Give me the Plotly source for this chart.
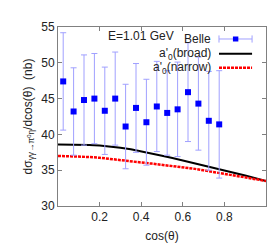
import plotly.graph_objects as go

# Belle data
cos_theta = [0.025, 0.075, 0.125, 0.175, 0.225, 0.275, 0.325, 0.375,
             0.425, 0.475, 0.525, 0.575, 0.625, 0.675, 0.725, 0.775]
belle = [47.4, 43.2, 44.8, 45.0, 43.3, 45.0, 41.1, 43.7,
         41.7, 43.9, 43.0, 43.5, 45.9, 44.3, 41.9, 41.4]
belle_err = [6.8, 6.1, 6.3, 6.3, 6.1, 6.5, 5.9, 6.2,
             6.0, 6.3, 5.9, 6.6, 6.9, 6.5, 6.9, 7.5]

# model curves
curve_x = [0.0, 0.05, 0.1, 0.15, 0.2, 0.25, 0.3, 0.35, 0.4, 0.45, 0.5,
           0.55, 0.6, 0.65, 0.7, 0.75, 0.8, 0.85, 0.9, 0.95, 1.0]
broad = [38.6, 38.6, 38.58, 38.53, 38.45, 38.33, 38.15, 37.93, 37.65, 37.35, 37.02,
         36.7, 36.37, 36.02, 35.68, 35.33, 34.98, 34.62, 34.25, 33.88, 33.5]
narrow = [37.0, 36.97, 36.92, 36.84, 36.74, 36.6, 36.42, 36.25, 36.08, 35.92, 35.75,
          35.6, 35.43, 35.22, 34.98, 34.72, 34.45, 34.2, 33.95, 33.72, 33.5]

x_ticks = [0.2, 0.4, 0.6, 0.8]
y_ticks = [30, 35, 40, 45, 50, 55]

FONT = "Liberation Sans, Arial, sans-serif"
TXT = "#222222"
AX = "#808080"

fig = go.Figure()
fig.add_trace(go.Scatter(x=curve_x, y=broad, mode="lines", line=dict(color="black", width=2),
                         showlegend=False))
fig.add_trace(go.Scatter(x=curve_x, y=narrow, mode="lines",
                         line=dict(color="#ff0000", width=2.5, dash="3px,1px"),
                         showlegend=False))
fig.add_trace(go.Scatter(x=cos_theta, y=belle, mode="markers",
                         marker=dict(symbol="square", size=6, color="#0000ff"),
                         error_y=dict(type="data", array=belle_err, color="#a0a0ff", thickness=1, width=3),
                         showlegend=False))

# manual legend (symbols to the right of text)
lx0, lx1, lxm = 0.774, 0.933, 0.854
ys = [0.933, 0.851, 0.772]
labels = ["Belle", "a'<sub>0</sub>(broad)", "a'<sub>0</sub>(narrow)"]
for lab, yy in zip(labels, ys):
    fig.add_annotation(x=0.745, y=yy, xref="paper", yref="paper", text=lab, showarrow=False,
                       xanchor="right", yanchor="middle", font=dict(size=12, color=TXT, family=FONT))
shapes = [
    dict(type="line", xref="paper", yref="paper", x0=lx0, x1=lx1, y0=ys[0], y1=ys[0],
         line=dict(color="#a0a0ff", width=1)),
    dict(type="line", xref="paper", yref="paper", x0=lx0, x1=lx0, y0=ys[0] - 0.02, y1=ys[0] + 0.02,
         line=dict(color="#a0a0ff", width=1)),
    dict(type="line", xref="paper", yref="paper", x0=lx1, x1=lx1, y0=ys[0] - 0.02, y1=ys[0] + 0.02,
         line=dict(color="#a0a0ff", width=1)),
    dict(type="rect", xref="paper", yref="paper", x0=lxm - 0.013, x1=lxm + 0.013,
         y0=ys[0] - 0.014, y1=ys[0] + 0.014, fillcolor="#0000ff", line=dict(width=0)),
    dict(type="line", xref="paper", yref="paper", x0=lx0, x1=lx1, y0=ys[1], y1=ys[1],
         line=dict(color="black", width=2)),
    dict(type="line", xref="paper", yref="paper", x0=lx0, x1=lx1, y0=ys[2], y1=ys[2],
         line=dict(color="#ff0000", width=2.5, dash="3px,1px")),
]

fig.add_annotation(x=0.399, y=0.947, xref="paper", yref="paper", text="E=1.01 GeV", showarrow=False,
                   xanchor="center", yanchor="middle", font=dict(size=12, color=TXT, family=FONT))

fig.update_layout(
    width=277, height=245,
    margin=dict(l=50, r=19, t=14, b=41),
    plot_bgcolor="white", paper_bgcolor="white",
    font=dict(family=FONT, size=12, color=TXT),
    shapes=shapes,
    showlegend=False,
)
fig.update_xaxes(range=[0, 1], tickvals=x_ticks, ticktext=[str(v) for v in x_ticks],
                 ticks="inside", ticklen=4, tickcolor=AX, showline=True, linecolor=AX, linewidth=1,
                 mirror="ticks", showgrid=False, zeroline=False,
                 title=dict(text="cos(θ)", standoff=8, font=dict(size=12)))
fig.update_yaxes(range=[30, 55], tickvals=y_ticks, ticks="inside", ticklen=4, tickcolor=AX,
                 showline=True, linecolor=AX, linewidth=1, mirror="ticks", showgrid=False, zeroline=False,
                 title=dict(text="dσ<sub>γγ→π<sup>0</sup>η</sub>/dcos(θ)  (nb)", standoff=6, font=dict(size=12)))

fig.write_html("out.html")
